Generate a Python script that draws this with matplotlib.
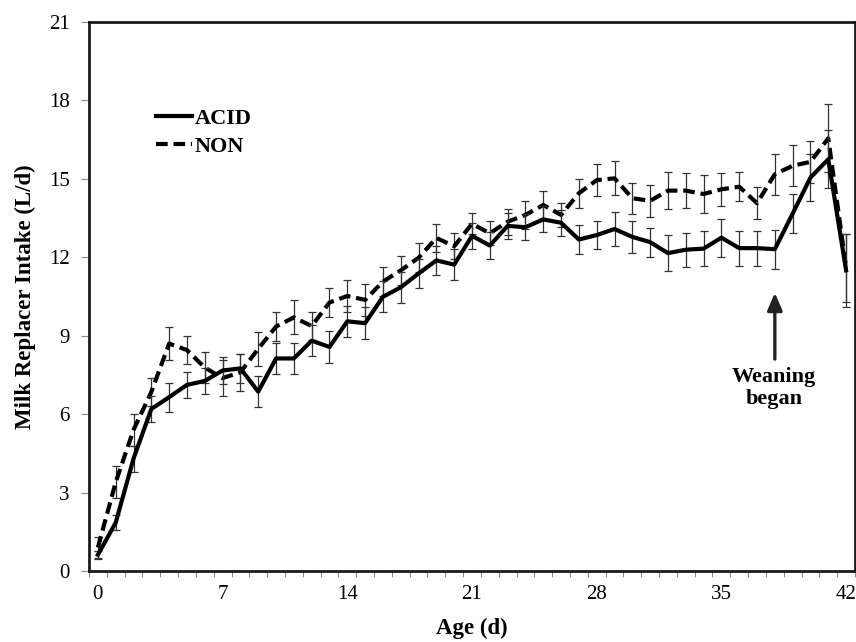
import matplotlib
matplotlib.use("Agg")
import matplotlib.pyplot as plt
from matplotlib.lines import Line2D

# Milk replacer intake by age, ACID vs NON
DAYS = list(range(43))
ACID = [0.62, 1.85, 4.30, 6.20, 6.65, 7.12, 7.27, 7.67, 7.75, 6.86,
        8.13, 8.13, 8.81, 8.57, 9.55, 9.48, 10.49, 10.85, 11.38, 11.88,
        11.72, 12.82, 12.45, 13.20, 13.15, 13.45, 13.32, 12.68, 12.85, 13.08,
        12.78, 12.58, 12.16, 12.29, 12.33, 12.75, 12.35, 12.35, 12.31, 13.67,
        15.05, 15.75, 11.50]
ACID_SE = [0.15, 0.30, 0.50, 0.50, 0.55, 0.50, 0.50, 0.50, 0.55, 0.60,
           0.60, 0.60, 0.60, 0.60, 0.60, 0.60, 0.60, 0.60, 0.55, 0.55,
           0.60, 0.50, 0.50, 0.50, 0.50, 0.50, 0.50, 0.55, 0.55, 0.65,
           0.60, 0.55, 0.70, 0.65, 0.67, 0.73, 0.67, 0.67, 0.75, 0.75,
           0.90, 1.10, 1.40]
NON = [0.90, 3.40, 5.40, 6.85, 8.70, 8.45, 7.78, 7.38, 7.60, 8.50,
       9.35, 9.70, 9.37, 10.27, 10.52, 10.37, 11.07, 11.50, 11.98, 12.74,
       12.42, 13.28, 12.92, 13.36, 13.62, 14.00, 13.62, 14.45, 14.95, 15.02,
       14.26, 14.16, 14.55, 14.55, 14.42, 14.60, 14.70, 14.07, 15.18, 15.50,
       15.65, 16.55, 11.60]
NON_SE = [0.40, 0.60, 0.60, 0.55, 0.63, 0.55, 0.60, 0.70, 0.70, 0.65,
          0.55, 0.65, 0.55, 0.55, 0.60, 0.60, 0.55, 0.55, 0.55, 0.55,
          0.50, 0.40, 0.45, 0.50, 0.55, 0.55, 0.45, 0.55, 0.60, 0.65,
          0.60, 0.61, 0.70, 0.66, 0.71, 0.63, 0.56, 0.61, 0.78, 0.79,
          0.80, 1.30, 1.30]
XTICKS = [0, 7, 14, 21, 28, 35, 42]
YTICKS = [0, 3, 6, 9, 12, 15, 18, 21]
WEAN_DAY = 38

DASH = (2.8, 1.4)

plt.rcParams.update({
    "font.family": ["Liberation Serif", "DejaVu Serif"],
    "font.size": 15,
})

fig = plt.figure(figsize=(8.56, 6.42), dpi=100)
ax = fig.add_axes([89 / 856, 1 - 571 / 642, (855 - 89) / 856, (571 - 22) / 642])

ax.errorbar(DAYS, NON, yerr=NON_SE, color="black", ecolor="#333333",
            elinewidth=0.9, capsize=3, capthick=0.9, lw=3.0,
            dashes=DASH, zorder=3)
ax.errorbar(DAYS, ACID, yerr=ACID_SE, color="black", ecolor="#333333",
            elinewidth=0.9, capsize=3, capthick=0.9, lw=3.0, zorder=4)

ax.set_xlim(-0.5, 42.5)
ax.set_ylim(0, 21)
ax.set_xticks(XTICKS)
ax.set_xticklabels([str(x) for x in XTICKS])
ax.set_xticks([d - 0.5 for d in range(44)], minor=True)
ax.tick_params(axis="x", which="major", length=0, pad=10, labelsize=15)
ax.tick_params(axis="x", which="minor", length=4, width=0.8, color="#888888")
ax.set_yticks(YTICKS)
ax.tick_params(axis="y", which="major", length=6, width=0.8,
               color="#888888", pad=8, labelsize=15)

for sp in ax.spines.values():
    sp.set_linewidth(2.0)
    sp.set_color("#1a1a1a")

ax.set_xlabel("Age (d)", fontsize=16.5, fontweight="bold", labelpad=10)
ax.set_ylabel("Milk Replacer Intake (L/d)", fontsize=16.5, fontweight="bold",
              labelpad=9)

handles = [Line2D([], [], color="black", lw=3.0),
           Line2D([], [], color="black", lw=3.0, dashes=DASH)]
ax.legend(handles, ["ACID", "NON"], loc="upper left",
          bbox_to_anchor=(0.088, 0.843), borderpad=0, borderaxespad=0,
          frameon=False, handlelength=1.6, handletextpad=0.12,
          labelspacing=0.35, prop={"weight": "bold", "size": 16})

ax.annotate("", xy=(WEAN_DAY, 10.75), xytext=(WEAN_DAY, 8.0),
            arrowprops=dict(arrowstyle="-|>,head_length=0.7,head_width=0.3",
                            color="#222222", lw=2.4))
ax.text(WEAN_DAY - 0.05, 7.0, "Weaning\nbegan", ha="center", va="center",
        fontsize=16, fontweight="bold", linespacing=1.15)

fig.savefig("out.png", dpi=100)
